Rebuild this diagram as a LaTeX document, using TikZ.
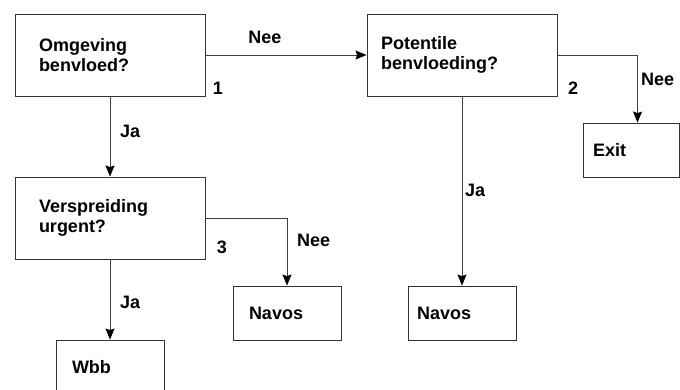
\documentclass[tikz,border=0pt]{standalone}
\usepackage{fontspec}
\setmainfont{Liberation Sans}
\usetikzlibrary{arrows.meta}
\begin{document}
\begin{tikzpicture}[x=1pt,y=-1pt,
  box/.style={draw=black!80, line width=0.9pt, fill=white, font=\bfseries\fontsize{18}{20}\selectfont,
    align=left, inner ysep=0pt, minimum height=82pt},
  smallbox/.style={box, minimum height=54pt},
  lbl/.style={font=\bfseries\fontsize{18}{20}\selectfont, inner sep=0pt},
  conn/.style={draw=black!75, line width=0.9pt, -{Stealth[length=11pt,width=9pt,inset=1.5pt,black]}}]
\useasboundingbox (0,0) rectangle (680,390);
\clip (0,0) rectangle (680,390);
\fill[white] (0,0) rectangle (680,390);

\node[box, inner xsep=24pt, text width=142pt] (b1) at (110,55) {Omgeving\\benvloed?};
\node[box, inner xsep=14pt, text width=162pt] (b2) at (462,55) {Potentile\\benvloeding?};
\node[box, inner xsep=24pt, text width=142pt] (b3) at (110,218) {Verspreiding\\urgent?};
\node[smallbox, inner xsep=10pt, text width=76.5pt] (exit) at (631.25,150) {Exit};
\node[smallbox, inner xsep=16pt, text width=76pt] (nav1) at (287,313) {Navos};
\node[smallbox, inner xsep=9pt, text width=90pt] (nav2) at (462,313) {Navos};
\node[smallbox, inner xsep=16pt, text width=76pt] (wbb) at (110,367) {Wbb};

\draw[conn] (b1.east) -- (b2.west);
\draw[conn] (b1.south) -- (b3.north);
\draw[conn] (b2.east) -| ([xshift=55pt]exit.north west);
\draw[conn] (b2.south) -- (nav2.north);
\draw[conn] (b3.east) -| (nav1.north);
\draw[conn] (b3.south) -- (wbb.north);

\node[lbl] (l1) at (265,37) {Nee};
\node[lbl, anchor=west] (l2) at (120,131) {Ja};
\node[lbl, anchor=west] (l3) at (641,79) {Nee};
\node[lbl, anchor=west] (l4) at (465,190) {Ja};
\node[lbl, anchor=west] (l5) at (297,240) {Nee};
\node[lbl, anchor=west] (l6) at (120,302) {Ja};
\node[lbl] (n1) at (218,88) {1};
\node[lbl] (n2) at (573,88) {2};
\node[lbl] (n3) at (222,247) {3};
\end{tikzpicture}
\end{document}
